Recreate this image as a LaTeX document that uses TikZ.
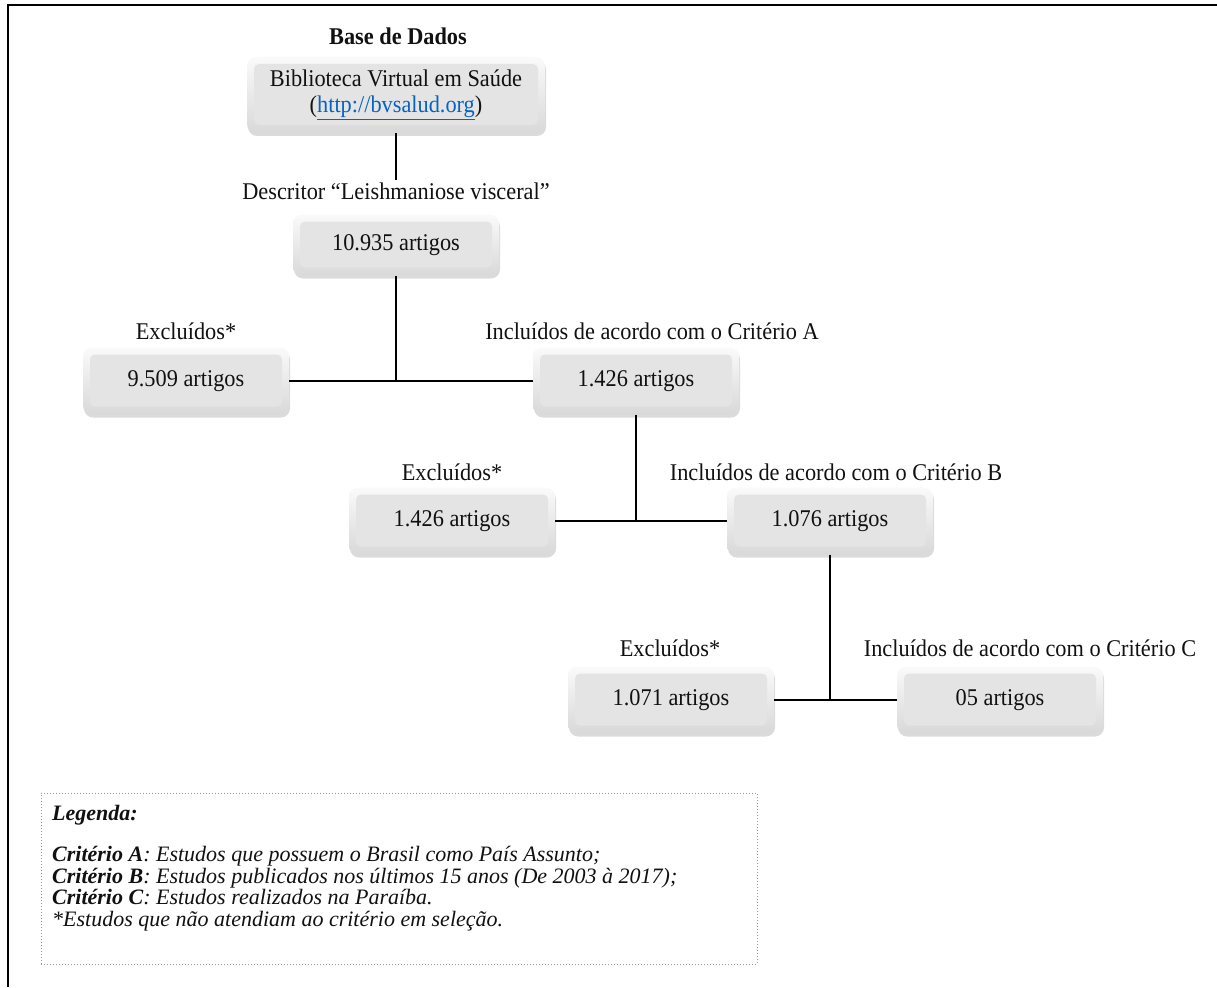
\documentclass[tikz,border=0pt]{standalone}
\usepackage{fontspec}
\setmainfont{Liberation Serif}[FakeStretch=0.93]
\newfontfamily\legfont{Liberation Serif}
\usetikzlibrary{shadows}
\definecolor{linkblue}{HTML}{0563C1}
\definecolor{boxface}{HTML}{E4E4E4}
\definecolor{txt}{HTML}{111111}
\tikzset{
  box/.style={rounded corners=9pt, minimum width=206pt, minimum height=67pt,
    top color=gray!4, bottom color=gray!30, inner sep=0pt,
    drop shadow={shadow xshift=1pt, shadow yshift=-3pt, opacity=0.35, fill=gray!80},
    path picture={\fill[boxface, rounded corners=5pt]
      ([shift={(7pt,-7pt)}]path picture bounding box.north west) rectangle
      ([shift={(-7pt,8pt)}]path picture bounding box.south east);},
    font=\fontsize{24}{27}\selectfont, align=center, text=txt},
  lbl/.style={font=\fontsize{24}{27}\selectfont, inner sep=2pt, text=txt},
  conn/.style={line width=1.6pt, black},
  leg/.style={font=\legfont\fontsize{22}{22}\selectfont\itshape, anchor=base west, inner sep=0pt,
    text height=14pt, text depth=4pt, text=txt}
}
\begin{document}
\begin{tikzpicture}[x=1pt,y=-1pt]
\useasboundingbox (0,0) rectangle (1217,987);
% frame
\draw[line width=1.5pt] (8,987) -- (8,5) -- (1217,5);

% top
\node[lbl, font=\fontsize{24}{27}\selectfont\bfseries] (bd) at (398,36) {Base de Dados};
\node[box, minimum width=298pt, minimum height=76pt] (bvs) at (396,95)
  {Biblioteca Virtual em Saúde\\[-1pt](\textcolor{linkblue}{\underline{http://bvsalud.org}})};
\node[lbl] (desc) at (396,191) {Descritor “Leishmaniose visceral”};
\node[box, minimum height=61pt] (n0) at (396,245) {10.935 artigos};

% level A
\node[lbl] (le1) at (186,331) {Excluídos*};
\node[box] (e1) at (186,381) {9.509 artigos};
\node[lbl] (li1) at (652,331) {Incluídos de acordo com o Critério A};
\node[box] (i1) at (636,381) {1.426 artigos};

% level B
\node[lbl] (le2) at (452,472) {Excluídos*};
\node[box] (e2) at (452,521) {1.426 artigos};
\node[lbl] (li2) at (836,472) {Incluídos de acordo com o Critério B};
\node[box] (i2) at (830,521) {1.076 artigos};

% level C
\node[lbl] (le3) at (670,648) {Excluídos*};
\node[box] (e3) at (671,700) {1.071 artigos};
\node[lbl] (li3) at (1030,648) {Incluídos de acordo com o Critério C};
\node[box] (i3) at (1000,700) {05 artigos};

% connectors
\draw[conn] (bvs.south) -- (desc.north);
\draw[conn] (n0.south) -- (n0.south |- e1.east);
\draw[conn] (e1.east) -- (i1.west);
\draw[conn] (i1.south) -- (i1.south |- e2.east);
\draw[conn] (e2.east) -- (i2.west);
\draw[conn] (i2.south) -- (i2.south |- e3.east);
\draw[conn] (e3.east) -- (i3.west);

% legend
\node[draw=gray!80, dotted, line width=1pt, minimum width=716pt, minimum height=171pt, inner sep=0pt] (legend) at (399,878.5) {};
\node[leg] (lg0) at (52,820) {\textbf{Legenda:}};
\node[leg] (lgA) at (52,861) {\textbf{Critério A}: Estudos que possuem o Brasil como País Assunto;};
\node[leg] (lgB) at (52,883) {\textbf{Critério B}: Estudos publicados nos últimos 15 anos (De 2003 à 2017);};
\node[leg] (lgC) at (52,904.5) {\textbf{Critério C}: Estudos realizados na Paraíba.};
\node[leg] (lgS) at (52,926) {*Estudos que não atendiam ao critério em seleção.};
\end{tikzpicture}
\end{document}
